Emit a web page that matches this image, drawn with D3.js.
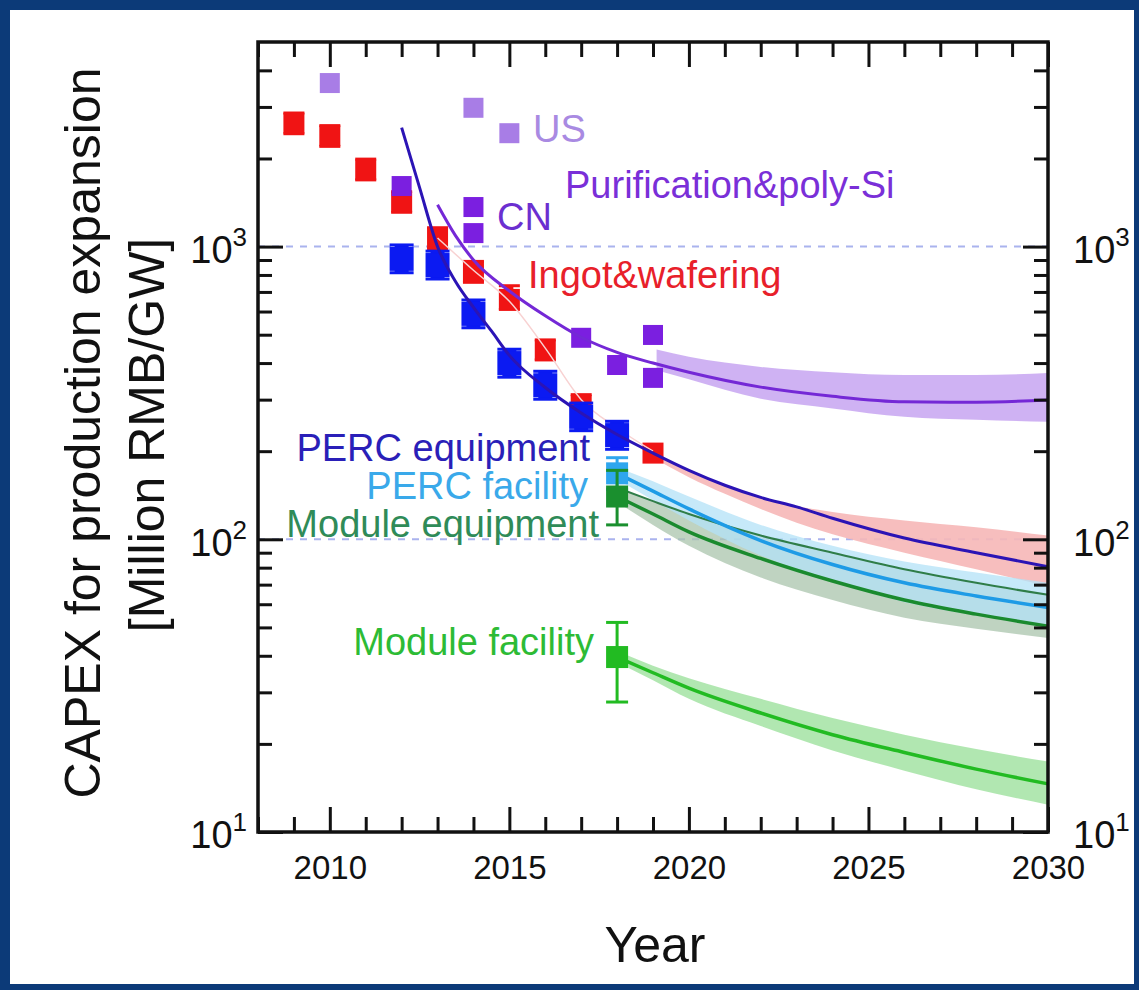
<!DOCTYPE html>
<html><head><meta charset="utf-8">
<script src="https://cdn.jsdelivr.net/npm/d3@7"></script>
<style>
html,body{margin:0;padding:0;background:#0c3a78;}
svg{display:block;}
text{font-family:"Liberation Sans", Arial, Helvetica, sans-serif;}
</style></head><body>
<svg id="chart" width="1139" height="990"></svg>
<script>
// ---- tick labels ----
const majorYears = [2010, 2015, 2020, 2025, 2030];
const minorYears = [2008, 2009, 2011, 2012, 2013, 2014, 2016, 2017, 2018, 2019, 2021, 2022, 2023, 2024, 2026, 2027, 2028, 2029];
const majorDecades = [10, 100, 1000];
const minorCapex = [20, 30, 40, 50, 60, 70, 80, 90, 200, 300, 400, 500, 600, 700, 800, 900, 2000, 3000, 4000];

// ---- Ingot & wafering ----
const ingotYears = [2009, 2010, 2011, 2012, 2013, 2014, 2015, 2016, 2017, 2019];
const ingotCapex = [2640, 2390, 1830, 1420, 1070, 820, 660, 443, 287, 197];
const ingotLow   = [2430, 2200, 1690, 1310, 985, 755, 610, 410, 265, 197];
const ingotHigh  = [2860, 2590, 1990, 1540, 1160, 890, 735, 480, 312, 197];
const ingotFitYears = [2013, 2014, 2015, 2016, 2017, 2018, 2019];
const ingotFit      = [1070, 830, 650, 450, 300, 240, 200];
const ingotBandYears = [2019, 2020, 2021, 2022, 2023, 2024, 2026, 2028, 2030];
const ingotBandLow   = [190, 163, 143, 127, 114, 104, 90, 79, 69];
const ingotBandHigh  = [200, 172, 154, 140, 130, 124, 116, 110, 103];

// ---- Purification & poly-Si ----
const usYears = [2010, 2014, 2015];
const usCapex = [3620, 2980, 2440];
const cnYears = [2012, 2014, 2014, 2017, 2018, 2019, 2019];
const cnCapex = [1610, 1365, 1112, 488, 394, 499, 356];
const polyFitYears = [2013, 2013.5, 2014, 2015, 2016, 2017, 2018, 2019, 2020, 2022, 2024, 2026, 2028, 2030];
const polyFit      = [1390, 1090, 900, 705, 580, 490, 435, 400, 372, 331, 308, 295, 294, 299];
const polyBandYears = [2019.1, 2020, 2022, 2024, 2026, 2028, 2030];
const polyBandLow   = [378, 352, 302, 280, 262, 256, 252];
const polyBandHigh  = [445, 420, 388, 372, 364, 364, 370];

// ---- PERC equipment ----
const percEquipYears = [2012, 2013, 2014, 2015, 2016, 2017, 2018];
const percEquipCapex = [908, 865, 589, 400, 336, 262, 227];
const percEquipLow   = [814, 775, 528, 358, 301, 235, 203];
const percEquipHigh  = [1013, 965, 657, 446, 375, 292, 253];
const percEquipFitYears = [2012, 2012.5, 2013, 2013.5, 2014, 2014.5, 2015, 2016, 2017, 2018, 2019, 2020, 2021, 2022, 2023, 2024, 2026, 2028, 2030];
const percEquipFit      = [2550, 1590, 1000, 760, 620, 515, 425, 330, 270, 228, 197, 172, 153, 139, 129, 118, 101, 90, 80.6];

// ---- 2018 anchors and projections ----
const projYears = [2018, 2019, 2020, 2022, 2024, 2026, 2028, 2030];
const percFacilityPoint = {year: 2018, capex: 168, low: 148, high: 190};
const percFacilityFit  = [168, 146, 127, 99, 82, 71, 64, 58.5];
const percFacilityLow  = [160, 136, 116, 88, 72, 61, 55, 50];
const percFacilityHigh = [176, 158, 140, 112, 95, 84, 77, 71];

const moduleEquipPoint = {year: 2018, capex: 140, low: 112, high: 172};
const moduleEquipFit   = [140, 122, 106, 86, 72, 62, 55.5, 50.5];
const moduleEquipUpper = [150, 135, 122, 103, 90, 79, 71, 64.6];
const moduleEquipLow   = [134, 112, 95, 74, 62, 54, 49.5, 46];

const moduleFacilityPoint = {year: 2018, capex: 39.6, low: 27.8, high: 52};
const moduleFacilityFit  = [39.6, 35, 31, 25.5, 21.5, 18.7, 16.4, 14.6];
const moduleFacilityLow  = [38, 33, 28.5, 23, 19, 16.2, 14, 12.4];
const moduleFacilityHigh = [41.5, 37, 33.5, 28.5, 24.5, 21.5, 19.2, 17.4];

// ---- layout ----
const W = 1139, H = 990;
const L = 258, R = 1048, T = 42, B = 832;
const x = d3.scaleLinear().domain([2008, 2030]).range([L, R]);
const y = d3.scaleLog().domain([10, 5000]).range([B, T]);

const svg = d3.select('#chart');
svg.append('rect').attr('width', W).attr('height', H).attr('fill', '#0c3a78');
svg.append('rect').attr('x', 10).attr('y', 10).attr('width', W - 15).attr('height', H - 16).attr('fill', '#ffffff');

// reference lines at 10^3 and 10^2
svg.append('g').selectAll('line').data([1000, 100]).join('line')
  .attr('x1', L).attr('x2', R).attr('y1', d => y(d)).attr('y2', d => y(d))
  .attr('stroke', '#aab3ee').attr('stroke-width', 2).attr('stroke-dasharray', '7,7');

const zip = (xs, ys) => xs.map((v, i) => [v, ys[i]]);
const line = d3.line().x(d => x(d[0])).y(d => y(d[1])).curve(d3.curveMonotoneX);
const area = d3.area().x(d => x(d[0])).y0(d => y(d[1])).y1(d => y(d[2])).curve(d3.curveMonotoneX);
const band = (xs, lo, hi) => xs.map((v, i) => [v, lo[i], hi[i]]);

const plot = svg.append('g');

// uncertainty bands
plot.append('path').datum(band(polyBandYears, polyBandLow, polyBandHigh)).attr('d', area).attr('fill', '#c7a5f1').attr('opacity', 0.85);
plot.append('path').datum(band(ingotBandYears, ingotBandLow, ingotBandHigh)).attr('d', area).attr('fill', '#f6b7b7').attr('opacity', 0.9);
plot.append('path').datum(band(projYears, moduleEquipLow, moduleEquipUpper)).attr('d', area).attr('fill', '#a9c4ac').attr('opacity', 0.75);
plot.append('path').datum(band(projYears, percFacilityLow, percFacilityHigh)).attr('d', area).attr('fill', '#b3e2f7').attr('opacity', 0.75);
plot.append('path').datum(band(projYears, moduleFacilityLow, moduleFacilityHigh)).attr('d', area).attr('fill', '#a8e4a8').attr('opacity', 0.9);

// square markers with error bars
function points(g, years, vals, lo, hi, color, size, barWidth) {
  const grp = g.append('g');
  years.forEach((yr, i) => {
    const cx = x(yr);
    if (lo && hi[i] !== lo[i]) {
      grp.append('line').attr('x1', cx).attr('x2', cx).attr('y1', y(lo[i])).attr('y2', y(hi[i]))
        .attr('stroke', color).attr('stroke-width', barWidth || 3);
      [lo[i], hi[i]].forEach(v => grp.append('line')
        .attr('x1', cx - size / 2).attr('x2', cx + size / 2).attr('y1', y(v)).attr('y2', y(v))
        .attr('stroke', color).attr('stroke-width', 3));
    }
    grp.append('rect').attr('x', cx - size / 2).attr('y', y(vals[i]) - size / 2)
      .attr('width', size).attr('height', size).attr('fill', color);
  });
}

points(plot, ingotYears, ingotCapex, ingotLow, ingotHigh, '#f01414', 21, 8);
points(plot, usYears, usCapex, null, null, '#a87de6', 20);
points(plot, cnYears, cnCapex, null, null, '#7b1fe0', 20);

// fitted trends
plot.append('path').datum(zip(ingotFitYears, ingotFit)).attr('d', line).attr('fill', 'none').attr('stroke', '#f8d2d2').attr('stroke-width', 1.5);
plot.append('path').datum(zip(polyFitYears, polyFit)).attr('d', line).attr('fill', 'none').attr('stroke', '#7428d6').attr('stroke-width', 3);

points(plot, percEquipYears, percEquipCapex, percEquipLow, percEquipHigh, '#0b1af2', 24, 14);
plot.append('path').datum(zip(percEquipFitYears, percEquipFit)).attr('d', line).attr('fill', 'none').attr('stroke', '#2b14b5').attr('stroke-width', 3);

plot.append('path').datum(zip(projYears, moduleEquipUpper)).attr('d', line).attr('fill', 'none').attr('stroke', '#2f7d48').attr('stroke-width', 2);
plot.append('path').datum(zip(projYears, percFacilityFit)).attr('d', line).attr('fill', 'none').attr('stroke', '#1e9be6').attr('stroke-width', 3.5);
plot.append('path').datum(zip(projYears, moduleEquipFit)).attr('d', line).attr('fill', 'none').attr('stroke', '#1a8a2e').attr('stroke-width', 3.5);
plot.append('path').datum(zip(projYears, moduleFacilityFit)).attr('d', line).attr('fill', 'none').attr('stroke', '#22bb22').attr('stroke-width', 3.5);

const single = p => [[p.year], [p.capex], [p.low], [p.high]];
points(plot, ...single(percFacilityPoint), '#2ea6ee', 22);
points(plot, ...single(moduleEquipPoint), '#1a8f2e', 22);
points(plot, ...single(moduleFacilityPoint), '#22bb22', 22);

// series labels
const labels = [
  {text: 'US', x: 533, y: 142, color: '#a98ae2', anchor: 'start'},
  {text: 'Purification&poly-Si', x: 565, y: 198, color: '#7a2fd8', anchor: 'start'},
  {text: 'CN', x: 497, y: 230, color: '#6b2fd0', anchor: 'start'},
  {text: 'Ingot&wafering', x: 528, y: 288, color: '#e8202a', anchor: 'start'},
  {text: 'PERC equipment', x: 590, y: 461, color: '#2a1fb8', anchor: 'end'},
  {text: 'PERC facility', x: 588, y: 499, color: '#3aa9ea', anchor: 'end'},
  {text: 'Module equipment', x: 599, y: 537, color: '#2f8b58', anchor: 'end'},
  {text: 'Module facility', x: 594, y: 655, color: '#2dbb35', anchor: 'end'}
];
svg.append('g').selectAll('text').data(labels).join('text')
  .attr('x', d => d.x).attr('y', d => d.y).attr('text-anchor', d => d.anchor)
  .attr('fill', d => d.color).attr('font-size', 38).text(d => d.text);

// axes
const styleAxis = g => {
  g.select('.domain').remove();
  g.selectAll('.tick line').attr('stroke', '#111').attr('stroke-width', 3);
  g.selectAll('text').attr('fill', '#111');
};
svg.append('g').attr('transform', `translate(0,${B})`)
  .call(d3.axisBottom(x).tickValues(majorYears).tickSizeInner(-25).tickSizeOuter(0).tickPadding(24).tickFormat(d3.format('d')))
  .call(styleAxis)
  .call(g => g.selectAll('text').attr('font-size', 33).attr('font-family', '"Liberation Sans Narrow", "Liberation Sans", Arial, sans-serif'));
svg.append('g').attr('transform', `translate(0,${B})`)
  .call(d3.axisBottom(x).tickValues(minorYears).tickSizeInner(-15).tickSizeOuter(0).tickFormat(''))
  .call(styleAxis);
svg.append('g').attr('transform', `translate(0,${T})`)
  .call(d3.axisTop(x).tickValues(majorYears).tickSizeInner(-25).tickSizeOuter(0).tickFormat(''))
  .call(styleAxis);
svg.append('g').attr('transform', `translate(0,${T})`)
  .call(d3.axisTop(x).tickValues(minorYears).tickSizeInner(-15).tickSizeOuter(0).tickFormat(''))
  .call(styleAxis);

// decade labels written as 10 with a raised exponent
const powerLabel = function (d) {
  const t = d3.select(this);
  t.text(null).attr('font-size', 38).style('font-size', '38px').attr('dy', '0.42em');
  t.append('tspan').text('10');
  t.append('tspan').attr('font-size', 26).style('font-size', '26px').attr('dy', -17).text(Math.round(Math.log10(d)));
};
svg.append('g').attr('transform', `translate(${L},0)`)
  .call(d3.axisLeft(y).tickValues(majorDecades).tickSizeInner(-25).tickSizeOuter(0).tickPadding(11))
  .call(styleAxis)
  .call(g => g.selectAll('text').each(powerLabel));
svg.append('g').attr('transform', `translate(${L},0)`)
  .call(d3.axisLeft(y).tickValues(minorCapex).tickSizeInner(-14).tickSizeOuter(0).tickFormat(''))
  .call(styleAxis);
svg.append('g').attr('transform', `translate(${R},0)`)
  .call(d3.axisRight(y).tickValues(majorDecades).tickSizeInner(-25).tickSizeOuter(0).tickPadding(25))
  .call(styleAxis)
  .call(g => g.selectAll('text').each(powerLabel));
svg.append('g').attr('transform', `translate(${R},0)`)
  .call(d3.axisRight(y).tickValues(minorCapex).tickSizeInner(-14).tickSizeOuter(0).tickFormat(''))
  .call(styleAxis);

// frame
svg.append('rect').attr('x', L).attr('y', T).attr('width', R - L).attr('height', B - T)
  .attr('fill', 'none').attr('stroke', '#111').attr('stroke-width', 3.5);

// axis titles
svg.append('text').attr('x', 655).attr('y', 962).attr('text-anchor', 'middle')
  .attr('font-size', 50).attr('fill', '#111').text('Year');
svg.append('text').attr('transform', 'translate(100,433) rotate(-90)').attr('text-anchor', 'middle')
  .attr('font-size', 50).attr('fill', '#111').text('CAPEX for production expansion');
svg.append('text').attr('transform', 'translate(164,435) rotate(-90)').attr('text-anchor', 'middle')
  .attr('font-size', 50).attr('fill', '#111').text('[Million RMB/GW]');
</script>
</body></html>
